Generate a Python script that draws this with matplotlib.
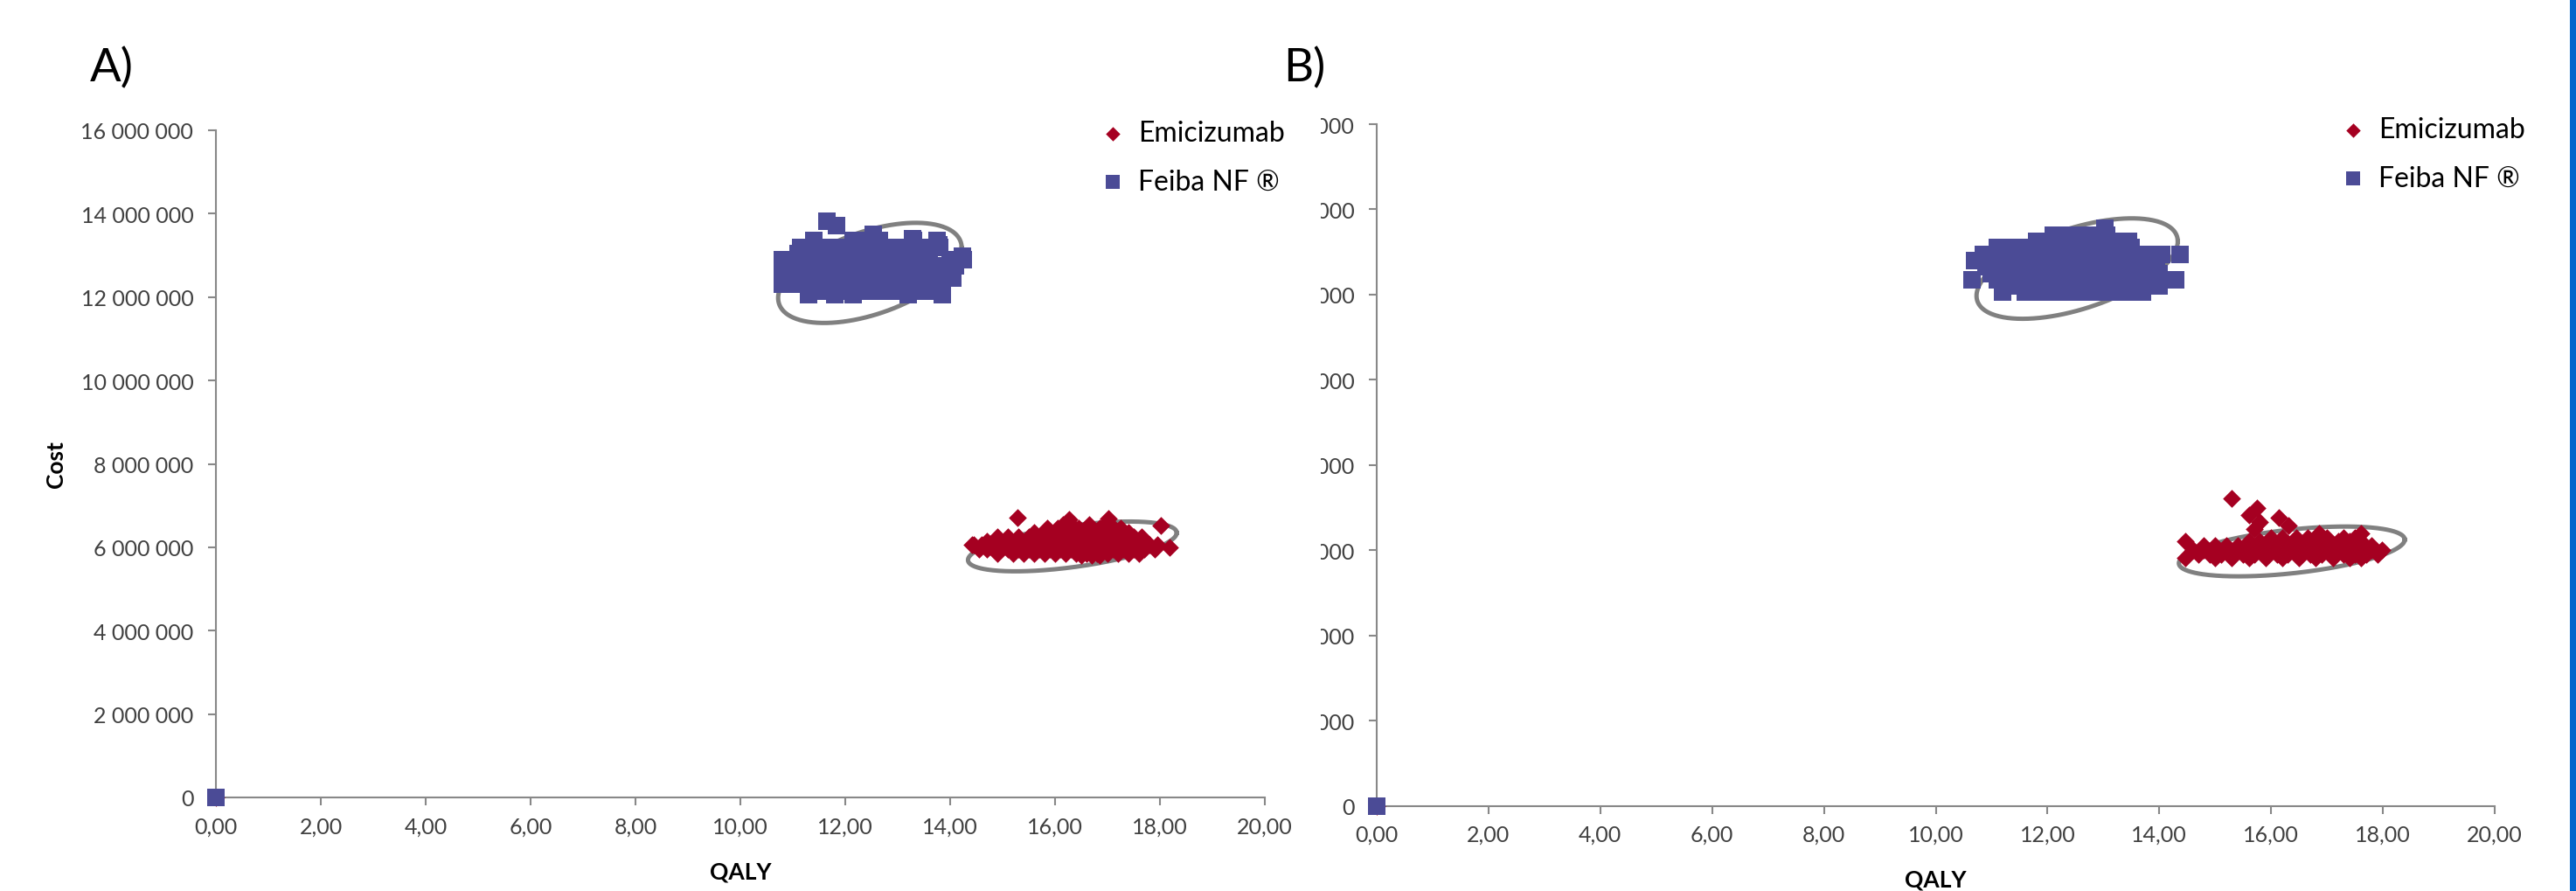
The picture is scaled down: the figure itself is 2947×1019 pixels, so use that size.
import numpy as np
import matplotlib
matplotlib.use("Agg")
import matplotlib.pyplot as plt
from matplotlib.patches import Rectangle
from matplotlib.ticker import FuncFormatter, MultipleLocator

plt.rcParams['font.family'] = ['Lato', 'DejaVu Sans']

# ---- data ----
# rows of (cost, [QALY values]) per scatter cloud
a_emi_rows = [
    (6.55e6, [16.15, 16.3, 16.65, 16.95, 17.05]),
    (6.45e6, [15.85, 16.05, 16.25, 16.45, 16.65, 16.85, 17.05, 17.25]),
    (6.35e6, [15.6, 15.8, 16.0, 16.2, 16.4, 16.6, 16.8, 17.0, 17.2, 17.4]),
    (6.25e6, [14.9, 15.1, 15.3, 15.5, 15.7, 15.9, 16.1, 16.3, 16.5, 16.7, 16.9, 17.1, 17.3, 17.5, 17.65]),
    (6.15e6, [14.7, 14.9, 15.1, 15.3, 15.5, 15.7, 15.9, 16.1, 16.3, 16.5, 16.7, 16.9, 17.1, 17.3, 17.5, 17.7]),
    (6.05e6, [14.45, 14.6, 14.8, 15.0, 15.2, 15.4, 15.6, 15.8, 16.0, 16.2, 16.4, 16.6, 16.8, 17.0, 17.2,
              17.4, 17.6, 17.8, 17.95]),
    (5.95e6, [14.55, 14.7, 14.9, 15.1, 15.3, 15.5, 15.7, 15.9, 16.1, 16.3, 16.5, 16.7, 16.9, 17.1, 17.3,
              17.5, 17.7, 17.9]),
    (5.85e6, [14.9, 15.2, 15.4, 15.6, 15.8, 16.0, 16.2, 16.4, 16.6, 16.8, 17.0, 17.2, 17.4, 17.6]),
    (5.80e6, [16.5, 16.7, 16.85]),
]
a_emi_extra_qaly = [0.0, 15.28, 16.27, 17.02, 18.02, 18.18, 14.42]
a_emi_extra_cost = [0.0, 6.70e6, 6.66e6, 6.68e6, 6.53e6, 6.00e6, 6.07e6]

a_fei_rows = [
    (13.35e6, [11.4, 12.15, 12.45, 12.65, 13.3, 13.75]),
    (13.2e6, [11.15, 11.4, 11.65, 11.9, 12.15, 12.4, 12.65, 12.9, 13.15, 13.4, 13.55, 13.8]),
    (13.05e6, [11.1, 11.35, 11.6, 11.85, 12.1, 12.35, 12.6, 12.85, 13.1, 13.35, 13.6]),
    (12.9e6, [10.8, 11.05, 11.3, 11.55, 11.8, 12.05, 12.3, 12.55, 12.8, 13.05, 13.3, 13.55, 14.0, 14.25]),
    (12.75e6, [10.85, 11.1, 11.35, 11.6, 11.85, 12.1, 12.35, 12.6, 12.85, 13.1, 13.35, 13.6, 13.85, 14.1]),
    (12.6e6, [10.8, 11.05, 11.3, 11.55, 11.8, 12.05, 12.3, 12.55, 12.8, 13.05, 13.3, 13.55, 13.8, 14.05]),
    (12.45e6, [10.85, 11.1, 11.35, 11.6, 11.85, 12.1, 12.35, 12.6, 12.85, 13.1, 13.35, 13.6, 13.85, 14.05]),
    (12.3e6, [10.8, 11.05, 11.3, 11.55, 11.8, 12.05, 12.3, 12.55, 12.8, 13.05, 13.3, 13.55, 13.8]),
    (12.15e6, [11.3, 11.55, 11.8, 12.05, 12.3, 12.55, 12.8, 13.05, 13.3, 13.55, 13.8]),
    (12.05e6, [11.3, 11.8, 12.15, 13.2, 13.85]),
]
a_fei_extra_qaly = [0.0, 11.65, 11.83, 12.53, 13.28, 14.23, 13.78]
a_fei_extra_cost = [0.0, 13.82e6, 13.71e6, 13.5e6, 13.4e6, 12.98e6, 13.25e6]

b_emi_rows = [
    (6.40e6, [16.85, 17.6]),
    (6.30e6, [16.0, 16.2, 16.45, 16.65, 17.0, 17.3, 17.5]),
    (6.20e6, [14.47, 15.6, 15.8, 16.0, 16.2, 16.4, 16.6, 16.8, 17.0, 17.2, 17.4, 17.6]),
    (6.10e6, [14.8, 15.0, 15.2, 15.4, 15.6, 15.8, 16.0, 16.2, 16.4, 16.6, 16.8, 17.0, 17.2, 17.4, 17.6, 17.8]),
    (6.00e6, [14.6, 14.8, 15.0, 15.2, 15.4, 15.6, 15.8, 16.0, 16.2, 16.4, 16.6, 16.8, 17.0, 17.2, 17.4,
              17.6, 17.8, 17.98]),
    (5.90e6, [14.7, 14.9, 15.1, 15.3, 15.5, 15.7, 15.9, 16.1, 16.3, 16.5, 16.7, 16.9, 17.1, 17.3, 17.5,
              17.7, 17.9]),
    (5.82e6, [14.47, 15.0, 15.3, 15.6, 15.9, 16.2, 16.5, 16.8, 17.1, 17.4, 17.6]),
]
b_emi_extra_qaly = [0.0, 15.29, 15.75, 15.6, 15.79, 16.14, 16.31, 15.7]
b_emi_extra_cost = [0.0, 7.21e6, 6.98e6, 6.82e6, 6.67e6, 6.76e6, 6.57e6, 6.5e6]

b_fei_rows = [
    (13.4e6, [12.1, 12.35, 12.6, 12.85, 13.05]),
    (13.25e6, [11.8, 12.05, 12.3, 12.55, 12.8, 13.05, 13.3, 13.45]),
    (13.1e6, [11.1, 11.35, 11.6, 11.85, 12.1, 12.35, 12.6, 12.85, 13.1, 13.35, 13.5]),
    (12.95e6, [10.85, 11.1, 11.35, 11.6, 11.85, 12.1, 12.35, 12.6, 12.85, 13.1, 13.35, 13.6, 13.85, 14.05,
               14.37]),
    (12.8e6, [10.7, 10.95, 11.2, 11.45, 11.7, 11.95, 12.2, 12.45, 12.7, 12.95, 13.2, 13.45, 13.7, 13.95]),
    (12.65e6, [10.9, 11.15, 11.4, 11.65, 11.9, 12.15, 12.4, 12.65, 12.9, 13.15, 13.4, 13.65, 13.9]),
    (12.5e6, [11.0, 11.25, 11.5, 11.75, 12.0, 12.25, 12.5, 12.75, 13.0, 13.25, 13.5, 13.75, 14.0]),
    (12.35e6, [10.65, 11.1, 11.35, 11.6, 11.85, 12.1, 12.35, 12.6, 12.85, 13.1, 13.35, 13.6, 13.85, 14.3]),
    (12.2e6, [11.2, 11.45, 11.7, 11.95, 12.2, 12.45, 12.7, 12.95, 13.2, 13.45, 13.7, 14.0]),
    (12.05e6, [11.2, 11.6, 11.9, 12.2, 12.5, 12.8, 13.1, 13.4, 13.7]),
]
b_fei_extra_qaly = [0.0, 13.03]
b_fei_extra_cost = [0.0, 13.55e6]

# ellipses: centre, two conjugate half-axes (QALY, cost)
a_ellipses = [((12.47, 12.58e6), (1.75, 0.60e6), (0.0, 1.04e6)),
              ((16.33, 6.02e6), (1.99, 0.326e6), (0.0, 0.50e6))]
b_ellipses = [((12.53, 12.61e6), (1.80, 0.64e6), (0.0, 0.99e6)),
              ((16.37, 5.97e6), (2.02, 0.277e6), (0.0, 0.515e6))]

labels = ["Emicizumab", "Feiba NF \u00ae"]
red = "#A50021"
blue = "#4B4B96"
axis_grey = "#888888"
text_grey = "#404040"


def flatten(rows, extra_x, extra_y):
    xs = list(extra_x)
    ys = list(extra_y)
    for cost, qalys in rows:
        xs += qalys
        ys += [cost] * len(qalys)
    return xs, ys


W, H = 2947, 1020
fig = plt.figure(figsize=(W / 100, H / 100), dpi=100)


def panel(rect, emi, fei, ellipses, leg_xy):
    ax = fig.add_axes(rect)
    ax.patch.set_visible(False)
    t = np.linspace(0, 2 * np.pi, 300)
    for (cx, cy), (ux, uy), (vx, vy) in ellipses:
        ax.plot(cx + ux * np.cos(t) + vx * np.sin(t),
                cy + uy * np.cos(t) + vy * np.sin(t),
                color="#808080", lw=3.6, zorder=1)
    ex, ey = flatten(*emi)
    fx, fy = flatten(*fei)
    ax.scatter(ex, ey, marker="D", s=110, color=red, lw=0, label=labels[0], zorder=2, clip_on=False)
    ax.scatter(fx, fy, marker="s", s=190, color=blue, lw=0, label=labels[1], zorder=3, clip_on=False)

    ax.set_xlim(0, 20)
    ax.set_ylim(0, 16e6)
    ax.xaxis.set_major_locator(MultipleLocator(2))
    ax.yaxis.set_major_locator(MultipleLocator(2e6))
    ax.xaxis.set_major_formatter(FuncFormatter(lambda v, p: f"{v:.2f}".replace(".", ",")))
    ax.yaxis.set_major_formatter(FuncFormatter(lambda v, p: f"{int(round(v)):,}".replace(",", " ")))
    for s in ["top", "right"]:
        ax.spines[s].set_visible(False)
    for s in ["left", "bottom"]:
        ax.spines[s].set_color(axis_grey)
        ax.spines[s].set_linewidth(1.5)
        ax.spines[s].set_zorder(1.5)
    ax.tick_params(axis="both", colors=axis_grey, width=1.5, length=6.5,
                   labelsize=18, labelcolor=text_grey)
    ax.tick_params(axis="y", pad=12)
    ax.tick_params(axis="x", pad=9)
    ax.set_xlabel("QALY", fontsize=19, fontweight="bold", labelpad=20)
    ax.set_ylabel("Cost", fontsize=19, fontweight="bold", labelpad=12)
    ax.legend(loc="upper left", bbox_to_anchor=(leg_xy[0] / W, 1 - leg_xy[1] / H),
              bbox_transform=fig.transFigure, frameon=False, fontsize=23,
              handlelength=1.0, handletextpad=0.4, borderpad=0, borderaxespad=0,
              labelspacing=0.8, markerscale=0.8, scatterpoints=1)
    return ax


ax_a = panel([247 / W, 1 - 913 / H, 1200 / W, 763 / H],
             (a_emi_rows, a_emi_extra_qaly, a_emi_extra_cost),
             (a_fei_rows, a_fei_extra_qaly, a_fei_extra_cost),
             a_ellipses, (1257, 138))
ax_b = panel([1575 / W, 1 - 922.5 / H, 1279 / W, 779.5 / H],
             (b_emi_rows, b_emi_extra_qaly, b_emi_extra_cost),
             (b_fei_rows, b_fei_extra_qaly, b_fei_extra_cost),
             b_ellipses, (2676, 134))
ax_b.set_ylabel("")

# panel B is cut off on its left side: hide the part of its labels left of x=1511
ax_b.set_zorder(0)
ax_a.set_zorder(2)
fig.add_artist(Rectangle((1380 / W, 0), (1511 - 1380) / W, 1, transform=fig.transFigure,
                         facecolor="white", edgecolor="none", zorder=1))

fig.text(103 / W, 1 - 93 / H, "A)", fontsize=38, va="baseline", ha="left", zorder=3)
fig.text(1468 / W, 1 - 93 / H, "B)", fontsize=38, va="baseline", ha="left", zorder=3)

# blue strip on the right edge
fig.add_artist(Rectangle((2940 / W, 0), 7 / W, 1, transform=fig.transFigure,
                         facecolor="#0066CC", edgecolor="none", zorder=10))

fig.savefig("out.png", dpi=100)
